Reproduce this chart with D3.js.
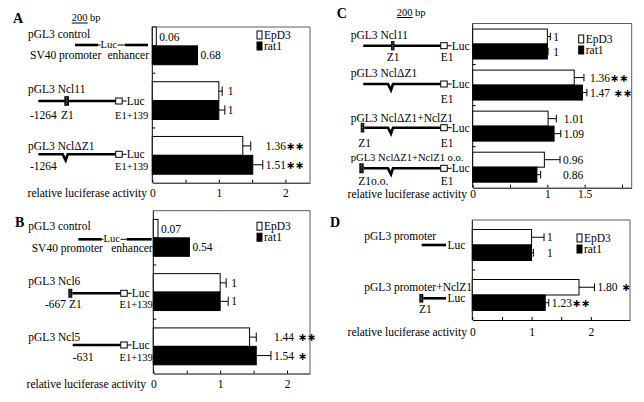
<!DOCTYPE html>
<html>
<head>
<meta charset="utf-8">
<script src="https://cdn.jsdelivr.net/npm/d3@7"></script>
<style>
  body { margin: 0; background: #fff; }
  svg text { font-family: "Liberation Serif", "Times New Roman", serif; font-size: 11.5px; fill: #000; }
</style>
</head>
<body>
<svg id="fig" width="644" height="402"></svg>
<script>
const series = ['EpD3', 'rat1'];

// panel A
const constructsA = ['pGL3 control', 'pGL3 Ncl11', 'pGL3 NclΔZ1'];
const epd3A = [0.06, 1, 1.36];
const rat1A = [0.68, 1, 1.51];
const epd3ErrA = [0, 0.05, 0.12];
const rat1ErrA = [0, 0.09, 0.15];
const epd3SigA = ['', '', '**'];
const rat1SigA = ['', '', '**'];
const ticksA = [0, 0.5, 1, 1.5, 2];
const tickLabelsA = ['0', '', '1', '', '2'];

// panel B
const constructsB = ['pGL3 control', 'pGL3 Ncl6', 'pGL3 Ncl5'];
const epd3B = [0.07, 1, 1.44];
const rat1B = [0.54, 1, 1.54];
const epd3ErrB = [0, 0.09, 0.10];
const rat1ErrB = [0, 0.12, 0.22];
const epd3SigB = ['', '', ' **'];
const rat1SigB = ['', '', ' *'];
const ticksB = [0, 0.5, 1, 1.5, 2];
const tickLabelsB = ['0', '', '1', '', '2'];

// panel C
const constructsC = ['pGL3 Ncl11', 'pGL3 NclΔZ1', 'pGL3 NclΔZ1+NclZ1', 'pGL3 NclΔZ1+NclZ1 o.o.'];
const epd3C = [1, 1.36, 1.01, 0.96];
const rat1C = [1, 1.47, 1.09, 0.86];
const epd3ErrC = [0.04, 0.13, 0.11, 0.21];
const rat1ErrC = [0.01, 0.06, 0.09, 0.05];
const epd3SigC = ['', '**', '', ''];
const rat1SigC = ['', ' **', '', ''];
const ticksC = [0, 0.5, 1, 1.5, 2];
const tickLabelsC = ['0', '', '1', '1.5', ''];

// panel D
const constructsD = ['pGL3 promoter', 'pGL3 promoter+NclZ1'];
const epd3D = [1, 1.80];
const rat1D = [1, 1.23];
const epd3ErrD = [0.21, 0.26];
const rat1ErrD = [0.03, 0.06];
const epd3SigD = ['', ' *'];
const rat1SigD = ['', '**'];
const ticksD = [0, 0.5, 1, 1.5, 2];
const tickLabelsD = ['0', '', '1', '', '2'];

const svg = d3.select('#fig');
const fmt = v => v === 1 ? '1' : v.toFixed(2);

function txt(g, x, y, s, anchor) {
  return g.append('text').attr('x', x).attr('y', y)
    .attr('text-anchor', anchor || 'start').text(s);
}
function small(g, x, y, s) {
  return txt(g, x, y, s).style('font-size', '10.5px');
}
function seg(g, x1, x2, y, w) {
  g.append('line').attr('x1', x1).attr('x2', x2).attr('y1', y).attr('y2', y)
    .attr('stroke', '#000').attr('stroke-width', w);
}
function thick(g, x1, x2, y) { seg(g, x1, x2, y, 2.6); }
function thin(g, x1, x2, y) { seg(g, x1, x2, y, 1); }
function notchLine(g, x1, x2, y, xn) {
  g.append('path')
    .attr('d', `M${x1},${y}H${xn - 3}L${xn},${y + 6}L${xn + 2},${y}H${x2}`)
    .attr('fill', 'none').attr('stroke', '#000').attr('stroke-width', 2.6);
}
function z1(g, x, y, w, h) {
  g.append('rect').attr('x', x).attr('y', y - h / 2).attr('width', w).attr('height', h).attr('fill', '#111');
  g.append('line').attr('x1', x + w / 2).attr('x2', x + w / 2).attr('y1', y - h / 3).attr('y2', y + h / 3)
    .attr('stroke', '#aaa').attr('stroke-width', 0.8).attr('stroke-dasharray', '1,1.5');
}
function e1Luc(g, x, y) {
  g.append('rect').attr('x', x).attr('y', y - 3).attr('width', 6.5).attr('height', 6)
    .attr('fill', '#fff').attr('stroke', '#000').attr('stroke-width', 1);
  thin(g, x + 6.5, x + 11, y);
  txt(g, x + 11, y + 3.8, 'Luc');
}
function panelLetter(x, y, s) {
  txt(svg, x, y, s).style('font-weight', 'bold').style('font-size', '14px');
}
function scaleBar(x, y) {
  txt(svg, x, y, '200 bp').style('font-size', '10.5px');
  svg.append('line').attr('x1', x).attr('x2', x + 16).attr('y1', y + 2).attr('y2', y + 2)
    .attr('stroke', '#000').attr('stroke-width', 1);
}

function drawPanel(p) {
  const g = svg.append('g');
  const x = d3.scaleLinear().domain([0, p.xMax]).range([p.left, p.right]);
  const y = d3.scaleBand().domain(p.constructs).range([p.top, p.bottom])
    .paddingInner(p.pad).paddingOuter(p.pad / 2);
  const ys = d3.scaleBand().domain(series).range([0, y.bandwidth()]);
  const frameTop = p.frameTop || p.top;

  const rows = p.constructs.map((c, i) => ({
    c, i,
    bars: [
      { s: 'EpD3', v: p.epd3[i], e: p.epd3Err[i], sig: p.epd3Sig[i] },
      { s: 'rat1', v: p.rat1[i], e: p.rat1Err[i], sig: p.rat1Sig[i] }
    ]
  }));

  // frame
  g.append('line').attr('x1', p.left).attr('x2', p.right).attr('y1', frameTop).attr('y2', frameTop)
    .attr('stroke', '#333').attr('stroke-width', 0.8);
  g.append('line').attr('x1', p.right).attr('x2', p.right).attr('y1', frameTop).attr('y2', p.bottom)
    .attr('stroke', '#333').attr('stroke-width', 0.8);
  g.append('line').attr('x1', p.left).attr('x2', p.left).attr('y1', frameTop).attr('y2', p.bottom)
    .attr('stroke', '#000').attr('stroke-width', 1);

  // group separators on the left axis
  const gap = y.step() * y.paddingInner() / 2;
  g.selectAll('.sep').data(p.constructs.slice(1)).enter().append('line')
    .attr('x1', p.left).attr('x2', p.left + 3)
    .attr('y1', d => y(d) - gap).attr('y2', d => y(d) - gap)
    .attr('stroke', '#000');

  // x axis
  const ax = g.append('g').attr('transform', `translate(0,${p.bottom})`)
    .call(d3.axisBottom(x).tickValues(p.ticks).tickSize(-3).tickSizeOuter(0)
      .tickPadding(p.tickPad).tickFormat((d, i) => p.tickLabels[i]));
  ax.select('.domain').attr('stroke', '#000');
  ax.attr('font-family', null).attr('font-size', null);

  txt(g, p.titleEnd, p.bottom + p.tickPad + 8.2, 'relative luciferase activity', 'end');

  // bars
  const grp = g.selectAll('.grp').data(rows).enter().append('g')
    .attr('transform', d => `translate(0,${y(d.c)})`);

  grp.selectAll('rect').data(d => d.bars).enter().append('rect')
    .attr('x', x(0))
    .attr('y', d => ys(d.s))
    .attr('width', d => x(d.v) - x(0))
    .attr('height', ys.bandwidth())
    .attr('fill', d => d.s === 'EpD3' ? '#fff' : '#000')
    .attr('stroke', '#000').attr('stroke-width', 1);

  // error bars (upper half only)
  const capH = ys.bandwidth() * 0.5;
  grp.each(function (row) {
    const gg = d3.select(this);
    const groupEnd = d3.max(row.bars, b => x(b.v + b.e));
    row.bars.filter(b => b.e > 0).forEach(b => {
      const cy = ys(b.s) + ys.bandwidth() / 2;
      gg.append('line').attr('x1', x(b.v)).attr('x2', x(b.v + b.e)).attr('y1', cy).attr('y2', cy)
        .attr('stroke', '#000').attr('stroke-width', 1);
      gg.append('line').attr('x1', x(b.v + b.e)).attr('x2', x(b.v + b.e))
        .attr('y1', cy - capH / 2).attr('y2', cy + capH / 2)
        .attr('stroke', '#000').attr('stroke-width', 1);
    });
    row.bars.forEach(b => {
      const cy = ys(b.s) + ys.bandwidth() / 2;
      const lx = (p.align[row.i] ? groupEnd : x(b.v + b.e)) + 3;
      const t = gg.append('text').attr('x', lx).attr('y', cy).attr('dy', '0.36em').text(fmt(b.v));
      if (b.sig) {
        t.append('tspan').text(b.sig.replace(/\*/g, '∗'))
          .style('font-family', '"DejaVu Sans", sans-serif').style('font-size', '11px')
          .style('font-weight', 'bold');
      }
    });
  });

  // legend
  const lg = g.append('g').attr('transform', `translate(${p.right - 53},${p.top + p.legendDy})`);
  series.forEach((s, i) => {
    lg.append('rect').attr('x', 0).attr('y', i * 11 - 4).attr('width', 5).attr('height', 8)
      .attr('fill', i === 0 ? '#fff' : '#000').attr('stroke', '#000').attr('stroke-width', 1);
    txt(lg, 7, i * 11 + 4, s);
  });
  return g;
}

// ---------- panel A ----------
panelLetter(13, 23, 'A');
scaleBar(71.7, 21);
drawPanel({
  constructs: constructsA, epd3: epd3A, rat1: rat1A, epd3Err: epd3ErrA, rat1Err: rat1ErrA,
  epd3Sig: epd3SigA, rat1Sig: rat1SigA, ticks: ticksA, tickLabels: tickLabelsA,
  left: 152.3, right: 310, top: 18.5, frameTop: 27, bottom: 182.7, xMax: 2.37, pad: 0.31,
  tickPad: 5.8, titleEnd: 147, legendDy: 16.5, align: [false, true, true]
});
(function () {
  const g = svg.append('g');
  txt(g, 28, 37.8, 'pGL3 control');
  thick(g, 75, 98, 45); thin(g, 98, 100.5, 45); small(g, 100.5, 48.4, 'Luc');
  thin(g, 117.5, 125, 45); thick(g, 125, 148, 45);
  txt(g, 30, 58.5, 'SV40 promoter'); txt(g, 149, 58.5, 'enhancer', 'end');

  txt(g, 28, 92.7, 'pGL3 Ncl11');
  thick(g, 38.3, 115.7, 101); z1(g, 64.3, 101, 4.7, 9.7); e1Luc(g, 115.7, 101);
  txt(g, 30, 119, '-1264'); txt(g, 61, 119, 'Z1'); small(g, 115, 119, 'E1+139');

  txt(g, 28, 149.5, 'pGL3 NclΔZ1');
  notchLine(g, 38.3, 115.7, 154.3, 65.7); e1Luc(g, 115.7, 154.3);
  txt(g, 30, 170, '-1264'); small(g, 115, 170, 'E1+139');
})();

// ---------- panel B ----------
panelLetter(15, 227, 'B');
drawPanel({
  constructs: constructsB, epd3: epd3B, rat1: rat1B, epd3Err: epd3ErrB, rat1Err: rat1ErrB,
  epd3Sig: epd3SigB, rat1Sig: rat1SigB, ticks: ticksB, tickLabels: tickLabelsB,
  left: 153.3, right: 310, top: 210.7, bottom: 373.5, xMax: 2.344, pad: 0.32,
  tickPad: 6.3, titleEnd: 146, legendDy: 15.5, align: [false, true, true]
});
(function () {
  const g = svg.append('g');
  txt(g, 28.3, 229.5, 'pGL3 control');
  thick(g, 78.3, 101.7, 239.3); thin(g, 101.7, 103.5, 239.3); small(g, 103.5, 242.2, 'Luc');
  thin(g, 120.5, 126.7, 239.3); thick(g, 126.7, 151.7, 239.3);
  txt(g, 31.7, 252.3, 'SV40 promoter'); txt(g, 152.7, 252.3, 'enhancer', 'end');

  txt(g, 28.3, 285, 'pGL3 Ncl6');
  thick(g, 72.3, 120.7, 293.3); z1(g, 68.3, 293.3, 4, 9); e1Luc(g, 120.7, 293.3);
  txt(g, 45, 308, '-667 Z1'); small(g, 119.5, 308, 'E1+139');

  txt(g, 28.3, 340.5, 'pGL3 Ncl5');
  thick(g, 72.7, 120.7, 345); e1Luc(g, 120.7, 345);
  txt(g, 72.7, 361, '-631'); small(g, 119.5, 361, 'E1+139');
})();

// ---------- panel C ----------
panelLetter(336.7, 18, 'C');
scaleBar(396.7, 15.5);
drawPanel({
  constructs: constructsC, epd3: epd3C, rat1: rat1C, epd3Err: epd3ErrC, rat1Err: rat1ErrC,
  epd3Sig: epd3SigC, rat1Sig: rat1SigC, ticks: ticksC, tickLabels: tickLabelsC,
  left: 472.7, right: 631.7, top: 23.5, bottom: 187.7, xMax: 2.13, pad: 0.27,
  tickPad: 2.5, titleEnd: 467, legendDy: 15.5, align: [true, true, true, true]
});
(function () {
  const g = svg.append('g');
  txt(g, 350.7, 39, 'pGL3 Ncl11');
  thick(g, 363.3, 440.7, 45.7); z1(g, 391, 45.7, 3.5, 9.3); e1Luc(g, 440.7, 45.7);
  txt(g, 386.7, 60.5, 'Z1'); txt(g, 440.7, 60.5, 'E1');

  txt(g, 350.7, 76.5, 'pGL3 NclΔZ1');
  notchLine(g, 363.3, 440.7, 84, 391); e1Luc(g, 440.7, 84);
  txt(g, 440.7, 102.5, 'E1');

  txt(g, 350.7, 122, 'pGL3 NclΔZ1+NclZ1');
  z1(g, 360.7, 127.7, 3.6, 9.6); notchLine(g, 364.3, 440.7, 127.7, 391); e1Luc(g, 440.7, 127.7);
  txt(g, 358.3, 146.5, 'Z1'); txt(g, 440.7, 146.5, 'E1');

  txt(g, 350.7, 160.8, 'pGL3 NclΔZ1+NclZ1 o.o.').style('font-size', '10.6px');
  z1(g, 359.3, 168.3, 4.4, 10); notchLine(g, 363.7, 440.7, 168.3, 391); e1Luc(g, 440.7, 168.3);
  txt(g, 358.3, 185, 'Z1o.o.'); txt(g, 440.7, 185, 'E1');
})();

// ---------- panel D ----------
panelLetter(330, 227, 'D');
drawPanel({
  constructs: constructsD, epd3: epd3D, rat1: rat1D, epd3Err: epd3ErrD, rat1Err: rat1ErrD,
  epd3Sig: epd3SigD, rat1Sig: rat1SigD, ticks: ticksD, tickLabels: tickLabelsD,
  left: 472.3, right: 630, top: 220, bottom: 320, xMax: 2.66, pad: 0.38,
  tickPad: 7.5, titleEnd: 467, legendDy: 18, align: [true, false]
});
(function () {
  const g = svg.append('g');
  txt(g, 364.3, 239.5, 'pGL3 promoter');
  thick(g, 421.7, 446, 245); txt(g, 447.5, 248.8, 'Luc');

  txt(g, 364.3, 291, 'pGL3 promoter+NclZ1');
  z1(g, 419.3, 298.3, 4, 8.7); thick(g, 423.3, 446, 298.3); txt(g, 447.5, 302.1, 'Luc');
  txt(g, 419, 313, 'Z1');
})();
</script>
</body>
</html>
